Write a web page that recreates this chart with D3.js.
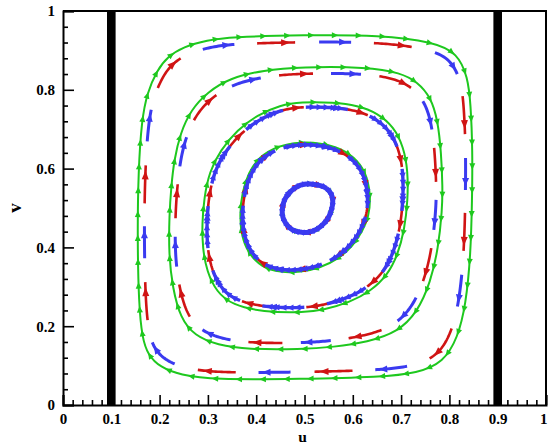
<!DOCTYPE html>
<html><head><meta charset="utf-8">
<script src="https://cdn.jsdelivr.net/npm/d3@7"></script>
<style>body{margin:0;background:#fff}svg{display:block}</style>
</head><body><svg id="c" width="548" height="445"></svg>
<script>
// ---- data ----
const xTickValues = [0,0.1,0.2,0.3,0.4,0.5,0.6,0.7,0.8,0.9,1];
const xTickLabels = ["0","0.1","0.2","0.3","0.4","0.5","0.6","0.7","0.8","0.9","1"];
const yTickValues = [0,0.2,0.4,0.6,0.8,1];
const yTickLabels = ["0","0.2","0.4","0.6","0.8","1"];
const wallX = [0.1, 0.9];
const vortexCenter = [0.5, 0.5];

const stream1 = [[0.498,0.939],[0.658,0.939],[0.768,0.921],[0.817,0.893],[0.838,0.832],[0.844,0.766],[0.848,0.647],[0.847,0.520],[0.844,0.381],[0.834,0.254],[0.817,0.170],[0.788,0.109],[0.734,0.081],[0.658,0.071],[0.492,0.066],[0.311,0.064],[0.243,0.076],[0.201,0.096],[0.176,0.127],[0.164,0.170],[0.157,0.254],[0.154,0.424],[0.156,0.596],[0.163,0.723],[0.174,0.792],[0.195,0.850],[0.216,0.883],[0.249,0.909],[0.299,0.926],[0.346,0.934]];
const stream2 = [[0.492,0.858],[0.631,0.858],[0.699,0.843],[0.734,0.820],[0.761,0.782],[0.776,0.723],[0.783,0.640],[0.786,0.553],[0.785,0.495],[0.777,0.398],[0.761,0.312],[0.734,0.236],[0.693,0.185],[0.631,0.160],[0.560,0.147],[0.492,0.141],[0.382,0.141],[0.320,0.152],[0.272,0.176],[0.243,0.221],[0.227,0.297],[0.219,0.381],[0.220,0.482],[0.224,0.553],[0.230,0.622],[0.243,0.690],[0.265,0.749],[0.299,0.794],[0.346,0.830],[0.415,0.850]];
const stream3 = [[0.492,0.769],[0.560,0.768],[0.610,0.760],[0.651,0.741],[0.685,0.706],[0.705,0.655],[0.714,0.596],[0.714,0.520],[0.707,0.445],[0.693,0.381],[0.672,0.330],[0.637,0.289],[0.595,0.261],[0.539,0.241],[0.492,0.234],[0.415,0.236],[0.350,0.254],[0.318,0.287],[0.298,0.338],[0.289,0.398],[0.288,0.460],[0.292,0.525],[0.303,0.592],[0.326,0.647],[0.361,0.698],[0.402,0.736],[0.450,0.761]];
const stream4 = [[0.492,0.668],[0.533,0.665],[0.575,0.652],[0.610,0.622],[0.631,0.579],[0.637,0.520],[0.633,0.480],[0.620,0.440],[0.600,0.404],[0.572,0.372],[0.533,0.348],[0.492,0.337],[0.450,0.336],[0.411,0.350],[0.384,0.384],[0.369,0.431],[0.366,0.485],[0.371,0.540],[0.384,0.590],[0.406,0.630],[0.445,0.658]];
const stream5 = [[0.512,0.561],[0.545,0.550],[0.558,0.525],[0.550,0.477],[0.525,0.446],[0.500,0.438],[0.472,0.447],[0.455,0.478],[0.458,0.518],[0.474,0.545],[0.492,0.558]];
const streamlines = [stream1, stream2, stream3, stream4, stream5];
// relative size of red / blue streamlines compared with green ones
const redShrink  = [0.96, 0.955, 0.955, 0.965, 1.0];
const blueShrink = [0.96, 0.955, 0.955, 0.965, 1.0];

// ---- styles ----
const GREEN = "#1ec81e", RED = "#d01414", BLUE = "#3a3af0";
const redStyle = [
  {dash:38, period:120, offset:0,  w:2.6},
  {dash:34, period:105, offset:20, w:2.6},
  {dash:28, period:62,  offset:10, w:2.6},
  {dash:26, period:40,  offset:5,  w:2.6},
  {dash:20, period:24,  offset:0,  w:3}
];
const blueStyle = [
  {dash:32, period:120, offset:62, w:3, fuzz:0},
  {dash:30, period:105, offset:72, w:3, fuzz:0},
  {dash:42, period:62,  offset:40, w:3.4, fuzz:7},
  {dash:58, period:64,  offset:30, w:3.6, fuzz:6},
  {dash:200, period:200, offset:0, w:5, fuzz:5}
];

// ---- chart ----
const svg = d3.select("#c");
const x = d3.scaleLinear().domain([0,1]).range([63,546]);
const y = d3.scaleLinear().domain([0,1]).range([405,11]);
const FONT = "'Liberation Serif','Times New Roman',serif";

// walls
svg.selectAll("rect.wall").data(wallX).enter().append("rect")
  .attr("class","wall")
  .attr("x", d => x(d) - 4.3).attr("width", 8.6)
  .attr("y", y(1)).attr("height", y(0) - y(1))
  .attr("fill", "#000");

const lineFor = i => d3.line().x(d => x(d[0])).y(d => y(d[1]))
  .curve(i < 4 ? d3.curveBasisClosed : d3.curveCatmullRomClosed.alpha(0.5));
const scaled = (pts, s) => pts.map(p => [vortexCenter[0] + (p[0]-vortexCenter[0])*s, vortexCenter[1] + (p[1]-vortexCenter[1])*s]);

function arrowAt(g, node, total, s, len, w, color) {
  const a = node.getPointAtLength(((s - 1.5) % total + total) % total);
  const b = node.getPointAtLength(((s + 1.5) % total + total) % total);
  const p = node.getPointAtLength(((s) % total + total) % total);
  const ang = Math.atan2(b.y - a.y, b.x - a.x);
  const c = Math.cos(ang), sn = Math.sin(ang);
  const tip = [p.x + c*len*0.5, p.y + sn*len*0.5];
  const back = [p.x - c*len*0.5, p.y - sn*len*0.5];
  const l = [back[0] - sn*w/2, back[1] + c*w/2];
  const r = [back[0] + sn*w/2, back[1] - c*w/2];
  g.append("path").attr("d", `M${tip}L${l}L${r}Z`).attr("fill", color);
}

function dashed(g, d, color, st, arrowLen, arrowW) {
  const tmp = g.append("path").attr("d", d).attr("fill","none").attr("stroke","none");
  const node = tmp.node();
  const total = node.getTotalLength();
  const n = Math.max(1, Math.round(total / st.period));
  const period = total / n;
  for (let k = 0; k < n; k++) {
    const s0 = st.offset + k*period;
    const len = Math.min(st.dash, period);
    const seg = [];
    for (let t = 0; t <= len; t += 2) {
      const p = node.getPointAtLength((s0 + t) % total);
      seg.push([p.x, p.y]);
    }
    const pe = node.getPointAtLength((s0 + len) % total);
    seg.push([pe.x, pe.y]);
    g.append("path").attr("d", d3.line()(seg)).attr("fill","none")
      .attr("stroke", color).attr("stroke-width", st.w).attr("stroke-linecap","butt");
    if (st.fuzz) {
      for (let t = st.fuzz; t < len; t += st.fuzz) arrowAt(g, node, total, s0 + t, arrowLen*0.8, arrowW*0.9, color);
    }
    arrowAt(g, node, total, s0 + len*0.75, arrowLen, arrowW, color);
  }
  tmp.remove();
}

const gGreen = svg.append("g"), gRed = svg.append("g"), gBlue = svg.append("g");
streamlines.forEach((pts, i) => {
  const line = lineFor(i);
  const path = gGreen.append("path").attr("d", line(pts)).attr("fill","none")
    .attr("stroke", GREEN).attr("stroke-width", 2);
  const node = path.node(), total = node.getTotalLength();
  const n = Math.round(total / 24);
  for (let k = 0; k < n; k++) arrowAt(gGreen, node, total, k*total/n + 6, 6.5, 6, GREEN);
  dashed(gRed, line(scaled(pts, redShrink[i])), RED, redStyle[i], 9, 7);
  dashed(gBlue, line(scaled(pts, blueShrink[i])), BLUE, blueStyle[i], 8, 7);
});

// axes
const fmtX = d => xTickLabels[xTickValues.indexOf(d)];
const fmtY = d => yTickLabels[yTickValues.indexOf(d)];
const xMinor = d3.range(0, 1.0001, 0.02).filter(v => Math.abs(v*10 - Math.round(v*10)) > 1e-6);
const yMinor = d3.range(0, 1.0001, 0.04).filter(v => Math.abs(v*5 - Math.round(v*5)) > 1e-6);

const gx = svg.append("g").attr("transform", `translate(0,${y(0)})`)
  .call(d3.axisBottom(x).tickValues(xTickValues).tickFormat(fmtX).tickSize(-10).tickPadding(8));
svg.append("g").attr("transform", `translate(0,${y(0)})`)
  .call(d3.axisBottom(x).tickValues(xMinor).tickFormat("").tickSize(-5)).select(".domain").remove();
const gy = svg.append("g").attr("transform", `translate(${x(0)},0)`)
  .call(d3.axisLeft(y).tickValues(yTickValues).tickFormat(fmtY).tickSize(-11).tickPadding(8));
svg.append("g").attr("transform", `translate(${x(0)},0)`)
  .call(d3.axisLeft(y).tickValues(yMinor).tickFormat("").tickSize(-5)).select(".domain").remove();

svg.selectAll(".tick line").attr("stroke","#000").attr("stroke-width",1.6);
svg.selectAll(".domain").attr("stroke","#000").attr("stroke-width",2);
svg.selectAll(".tick text").attr("font-family", FONT).attr("font-weight","bold")
  .attr("font-size", 15).attr("fill","#000");
// last x label sits at the right edge: keep it inside the page
gx.selectAll(".tick text").filter(d => d === 1).attr("text-anchor","end").attr("x", 547 - x(1));

// frame top/right
svg.append("path").attr("d", `M${x(0)},${y(1)}H${x(1)}V${y(0)}`).attr("fill","none")
  .attr("stroke","#000").attr("stroke-width",2);

// axis titles
svg.append("text").attr("x", (x(0)+x(1))/2 - 2).attr("y", 441.5).attr("text-anchor","middle")
  .attr("font-family", FONT).attr("font-weight","bold").attr("font-size", 15.5).text("u");
svg.append("text").attr("transform", `translate(21,${y(0.5)}) rotate(-90)`).attr("text-anchor","middle")
  .attr("font-family", FONT).attr("font-weight","bold").attr("font-size", 19).text("v");
</script>
</body></html>
